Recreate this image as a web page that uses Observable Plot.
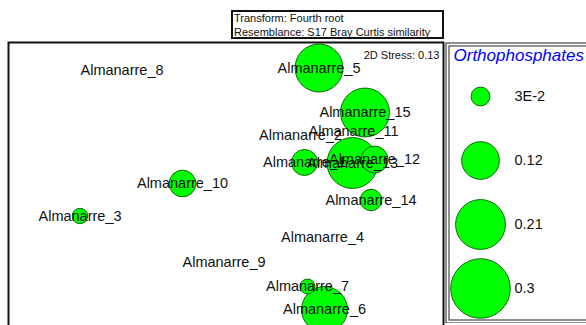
<!DOCTYPE html>
<html><head><meta charset="utf-8">
<script src="https://cdn.jsdelivr.net/npm/d3@7"></script>
<script src="https://cdn.jsdelivr.net/npm/@observablehq/plot@0.6"></script>
<style>
html,body{margin:0;padding:0;background:#fff;}
#wrap{position:relative;width:586px;height:325px;overflow:hidden;font-family:"Liberation Sans",Arial,sans-serif;background:#fff;}
#hdr{position:absolute;left:231px;top:10px;width:213px;height:29px;box-sizing:border-box;border:2px solid #111;font-size:11px;line-height:13.5px;padding-left:1px;white-space:nowrap;overflow:hidden;color:#111;background:#fff;}
#main{position:absolute;left:0;top:0;width:586px;height:325px;}
#leg{position:absolute;left:445px;top:42px;width:150px;height:281px;}
#wrap svg{max-width:none !important;}
</style></head><body>
<div id="wrap"><div id="main"></div><div id="leg"></div><div id="hdr"></div></div>
<script>
// nMDS ordination (arbitrary MDS units)
const samples = ["Almanarre_1","Almanarre_2","Almanarre_3","Almanarre_4","Almanarre_5","Almanarre_6","Almanarre_7","Almanarre_8","Almanarre_9","Almanarre_10","Almanarre_11","Almanarre_12","Almanarre_13","Almanarre_14","Almanarre_15"];
const mds1 = [0.79, 0.75, -1.455, 0.97, 0.935, 0.99, 0.82, -1.035, -0.015, -0.43, 1.28, 1.49, 1.27, 1.455, 1.395];
const mds2 = [0.18, 0.45, -0.355, -0.57, 1.125, -1.29, -1.06, 1.10, -0.82, -0.03, 0.49, 0.21, 0.175, -0.195, 0.68];
// bubble variable
const variableName = "Orthophosphates";
const orthophosphates = [0.057, 0, 0.020, 0, 0.194, 0.178, 0.019, 0, 0, 0.060, 0, 0.061, 0.219, 0.039, 0.202];
// legend
const legendLabels = ["3E-2", "0.12", "0.21", "0.3"];
const legendValues = [0.03, 0.12, 0.21, 0.3];
// annotations
const headerLines = ["Transform: Fourth root", "Resemblance: S17 Bray Curtis similarity"];
const stress = 0.13;

const FONT = '"Liberation Sans", Arial, sans-serif';
const FILL = "#00ff00", STROKE = "#0b6a0b";

const data = samples.map((s, i) => ({name: s, x: mds1[i], y: mds2[i], v: orthophosphates[i]}));
const rScale = {type: "sqrt", domain: [0, 0.3], range: [0, 29.8]};

const main = Plot.plot({
  width: 586, height: 325,
  marginLeft: 8, marginTop: 42, marginRight: 143, marginBottom: -12,
  x: {domain: [-2.17, 2.18], axis: null},
  y: {domain: [-1.57, 1.38], axis: null},
  r: rScale,
  style: {fontFamily: FONT, background: "white", color: "#111", maxWidth: "none"},
  marks: [
    Plot.dot(data, {x: "x", y: "y", r: "v", fill: FILL, fillOpacity: 1, stroke: STROKE, strokeWidth: 1}),
    Plot.text(data, {x: "x", y: "y", text: "name", fontSize: 14.5, fill: "#111"}),
    Plot.text([`2D Stress: ${stress}`], {frameAnchor: "top-right", lineAnchor: "middle", textAnchor: "end", dx: -4, dy: 13, fontSize: 11, fill: "#111"}),
    Plot.frame({stroke: "#111", strokeWidth: 2})
  ]
});
document.getElementById("main").appendChild(main);

const legData = legendValues.map((v, i) => ({v, label: legendLabels[i]}));
const leg = Plot.plot({
  width: 150, height: 281, margin: 0,
  y: {type: "point", domain: legendLabels, range: [54, 246], padding: 0, axis: null},
  r: rScale,
  style: {fontFamily: FONT, background: "white", color: "#111", maxWidth: "none"},
  marks: [
    Plot.frame({stroke: "#222", strokeWidth: 1, inset: 0.5}),
    Plot.frame({stroke: "#222", strokeWidth: 1, inset: 3.5}),
    Plot.dot(legData, {y: "label", r: "v", frameAnchor: "left", dx: 35, fill: FILL, fillOpacity: 1, stroke: STROKE, strokeWidth: 1}),
    Plot.text(legData, {y: "label", text: "label", frameAnchor: "left", dx: 69, textAnchor: "start", fontSize: 14.5, fill: "#111"}),
    Plot.text([variableName], {frameAnchor: "top-left", lineAnchor: "middle", textAnchor: "start", dx: 8, dy: 13, fontSize: 17, fontStyle: "italic", fill: "#0000ff"})
  ]
});
document.getElementById("leg").appendChild(leg);

const hdr = document.getElementById("hdr");
headerLines.forEach(t => { const d = document.createElement("div"); d.textContent = t; hdr.appendChild(d); });
</script>
</body></html>
